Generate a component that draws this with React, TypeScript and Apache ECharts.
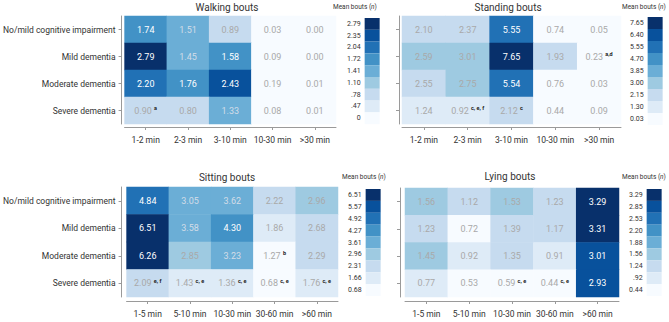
import React, { useEffect, useRef } from "react";
import * as echarts from "echarts";

const groups = ["No/mild cognitive impairment", "Mild dementia", "Moderate dementia", "Severe dementia"];
const walkCats = ["1-2 min", "2-3 min", "3-10 min", "10-30 min", ">30 min"];
const sitCats = ["1-5 min", "5-10 min", "10-30 min", "30-60 min", ">60 min"];

const walkingValues = [
  [1.74, 1.51, 0.89, 0.03, 0.0],
  [2.79, 1.45, 1.58, 0.09, 0.0],
  [2.2, 1.76, 2.43, 0.19, 0.01],
  [0.9, 0.8, 1.33, 0.08, 0.01],
];
const walkingNotes = [
  ["", "", "", "", ""],
  ["", "", "", "", ""],
  ["", "", "", "", ""],
  ["a", "", "", "", ""],
];
const standingValues = [
  [2.1, 2.37, 5.55, 0.74, 0.05],
  [2.59, 3.01, 7.65, 1.93, 0.23],
  [2.55, 2.75, 5.54, 0.76, 0.03],
  [1.24, 0.92, 2.12, 0.44, 0.09],
];
const standingNotes = [
  ["", "", "", "", ""],
  ["", "", "", "", "a,d"],
  ["", "", "", "", ""],
  ["", "c, e, f", "c", "", ""],
];
const sittingValues = [
  [4.84, 3.05, 3.62, 2.22, 2.96],
  [6.51, 3.58, 4.3, 1.86, 2.68],
  [6.26, 2.85, 3.23, 1.27, 2.29],
  [2.09, 1.43, 1.36, 0.68, 1.76],
];
const sittingNotes = [
  ["", "", "", "", ""],
  ["", "", "", "", ""],
  ["", "", "", "b", ""],
  ["e, f", "c, e", "c, e", "c, e", "c, e"],
];
const lyingValues = [
  [1.56, 1.12, 1.53, 1.23, 3.29],
  [1.23, 0.72, 1.39, 1.17, 3.31],
  [1.45, 0.92, 1.35, 0.91, 3.01],
  [0.77, 0.53, 0.59, 0.44, 2.93],
];
const lyingNotes = [
  ["", "", "", "", ""],
  ["", "", "", "", ""],
  ["", "", "", "", ""],
  ["", "", "c, e", "c, e", ""],
];

// colour-scale legend labels (low -> high)
const walkingLegend = ["0", ".47", ".78", "1.10", "1.41", "1.72", "2.04", "2.35", "2.79"];
const standingLegend = ["0.03", "1.30", "2.15", "3.00", "3.85", "4.70", "5.55", "6.40", "7.65"];
const sittingLegend = ["0.68", "1.66", "2.31", "2.96", "3.61", "4.27", "4.92", "5.57", "6.51"];
const lyingLegend = ["0.44", ".92", "1.24", "1.56", "1.88", "2.20", "2.53", "2.85", "3.29"];

// bin edges of the colour scales (lower edge of bins 1..8)
const walkingEdges = [0.47, 0.78, 1.1, 1.3, 1.55, 2.0, 2.3, 2.6];
const standingEdges = [0.8, 1.5, 2.57, 3.4, 4.3, 5.1, 6.0, 7.0];
const sittingEdges = [1.3, 2.0, 2.75, 3.0, 4.0, 4.6, 5.3, 6.0];
const lyingEdges = [0.75, 1.0, 1.42, 1.7, 2.0, 2.4, 2.7, 3.1];

const blues = ["#f7fbff", "#deebf7", "#c6dbef", "#9ecae1", "#6baed6", "#4292c6", "#2171b5", "#08519c", "#08306b"];

const panels = [
  { title: "Walking bouts", cats: walkCats, values: walkingValues, notes: walkingNotes, legend: walkingLegend, edges: walkingEdges,
    grid: { left: 119, top: 16, width: 217, height: 108 }, yLabels: true, yOff: 3, xOff: 3,
    vm: { left: 347, top: 18, h: 11.8 }, titleXY: [227, 7], mbXY: [333, 7] },
  { title: "Standing bouts", cats: walkCats, values: standingValues, notes: standingNotes, legend: standingLegend, edges: standingEdges,
    grid: { left: 402, top: 16, width: 219, height: 108 }, yLabels: false, yOff: 3, xOff: 3,
    vm: { left: 630, top: 17, h: 12 }, titleXY: [508, 7], mbXY: [622, 7] },
  { title: "Sitting bouts", cats: sitCats, values: sittingValues, notes: sittingNotes, legend: sittingLegend, edges: sittingEdges,
    grid: { left: 119, top: 187, width: 219, height: 110 }, yLabels: true, yOff: 5, xOff: 4,
    vm: { left: 348, top: 189, h: 11.9 }, titleXY: [227, 177], mbXY: [342, 177] },
  { title: "Lying bouts", cats: sitCats, values: lyingValues, notes: lyingNotes, legend: lyingLegend, edges: lyingEdges,
    grid: { left: 405, top: 188, width: 214, height: 109 }, yLabels: false, yOff: 5, xOff: 4,
    vm: { left: 629, top: 189, h: 11.9 }, titleXY: [510, 176], mbXY: [622, 177] },
];

const FONT = "Roboto, 'Noto Sans', sans-serif";

function levelOf(v: number, edges: number[]) {
  let l = 0;
  edges.forEach((e, i) => { if (v >= e) l = i + 1; });
  return l;
}

export default function App() {
  const ref = useRef<HTMLDivElement>(null);
  useEffect(() => {
    if (!ref.current) return;
    const chart = echarts.init(ref.current, null, { renderer: "svg" });
    const grid: any[] = [], xAxis: any[] = [], yAxis: any[] = [], series: any[] = [], visualMap: any[] = [], graphic: any[] = [];
    panels.forEach((p, pi) => {
      grid.push({ ...p.grid, containLabel: false });
      xAxis.push({
        type: "category", gridIndex: pi, data: p.cats, offset: p.xOff,
        axisLine: { show: true, lineStyle: { color: "#9a9a9a", width: 1 } },
        axisTick: { show: true, alignWithLabel: true, length: 3, interval: 0, lineStyle: { color: "#9a9a9a" } },
        axisLabel: { color: "#333", fontSize: 8.5, fontFamily: FONT, margin: 8, interval: 0, hideOverlap: false },
        splitLine: { show: false }, splitArea: { show: false },
      });
      yAxis.push({
        type: "category", gridIndex: pi, data: groups, inverse: true, offset: p.yOff,
        axisLine: { show: true, lineStyle: { color: "#9a9a9a", width: 1 } },
        axisTick: { show: true, alignWithLabel: true, length: 3, interval: 0, lineStyle: { color: "#9a9a9a" } },
        axisLabel: { show: p.yLabels, color: "#333", fontSize: 8.5, fontFamily: FONT, margin: 6, interval: 0 },
        splitLine: { show: false }, splitArea: { show: false },
      });
      const data: any[] = [];
      p.values.forEach((row, r) => row.forEach((v, c) => {
        const lvl = levelOf(v, p.edges);
        const col = lvl >= 5 ? "#ffffff" : lvl === 4 ? "#d3dde8" : "#a9a9a9";
        data.push({ value: [c, r, v], note: p.notes[r][c], label: { color: col } });
      }));
      series.push({
        type: "heatmap", xAxisIndex: pi, yAxisIndex: pi, data,
        label: {
          show: true, fontSize: 9, fontFamily: FONT,
          formatter: (prm: any) => {
            const n = prm.data.note;
            const s = prm.value[2].toFixed(2);
            return n ? `${s} {s|${n}}` : s;
          },
          rich: { s: { fontSize: 5.5, fontWeight: "bold", color: "#222", fontFamily: FONT, padding: [0, 0, 5, 0] } },
        },
        itemStyle: { borderWidth: 0 },
        emphasis: { disabled: true },
      });
      const pieces: any[] = [];
      for (let i = 0; i < 9; i++) {
        const pc: any = { color: blues[i], label: p.legend[i] };
        if (i > 0) pc.gte = p.edges[i - 1];
        if (i < 8) pc.lt = p.edges[i];
        pieces.push(pc);
      }
      visualMap.push({
        type: "piecewise", seriesIndex: pi, pieces, orient: "vertical",
        left: p.vm.left, top: p.vm.top, itemWidth: 15, itemHeight: p.vm.h, itemGap: 0, itemSymbol: "rect",
        padding: 0, textGap: 4, hoverLink: false, selectedMode: false,
        textStyle: { color: "#333", fontSize: 7, fontFamily: FONT },
      });
      graphic.push({
        type: "text", x: p.titleXY[0], y: p.titleXY[1],
        style: { text: p.title, font: `10px ${FONT}`, fill: "#333", textAlign: "center", textVerticalAlign: "middle" },
      });
      graphic.push({
        type: "text", x: p.mbXY[0], y: p.mbXY[1],
        style: {
          text: "{a|Mean bouts (}{i|n}{a|)}", textVerticalAlign: "middle",
          rich: { a: { fontSize: 6.5, fontFamily: FONT, fill: "#333" }, i: { fontSize: 6.5, fontFamily: FONT, fontStyle: "italic", fill: "#333" } },
        },
      });
    });
    chart.setOption({ animation: false, backgroundColor: "#fff", grid, xAxis, yAxis, series, visualMap, graphic });
    return () => chart.dispose();
  }, []);
  return <div ref={ref} style={{ position: "absolute", left: 0, top: 0, width: 669, height: 322 }} />;
}
